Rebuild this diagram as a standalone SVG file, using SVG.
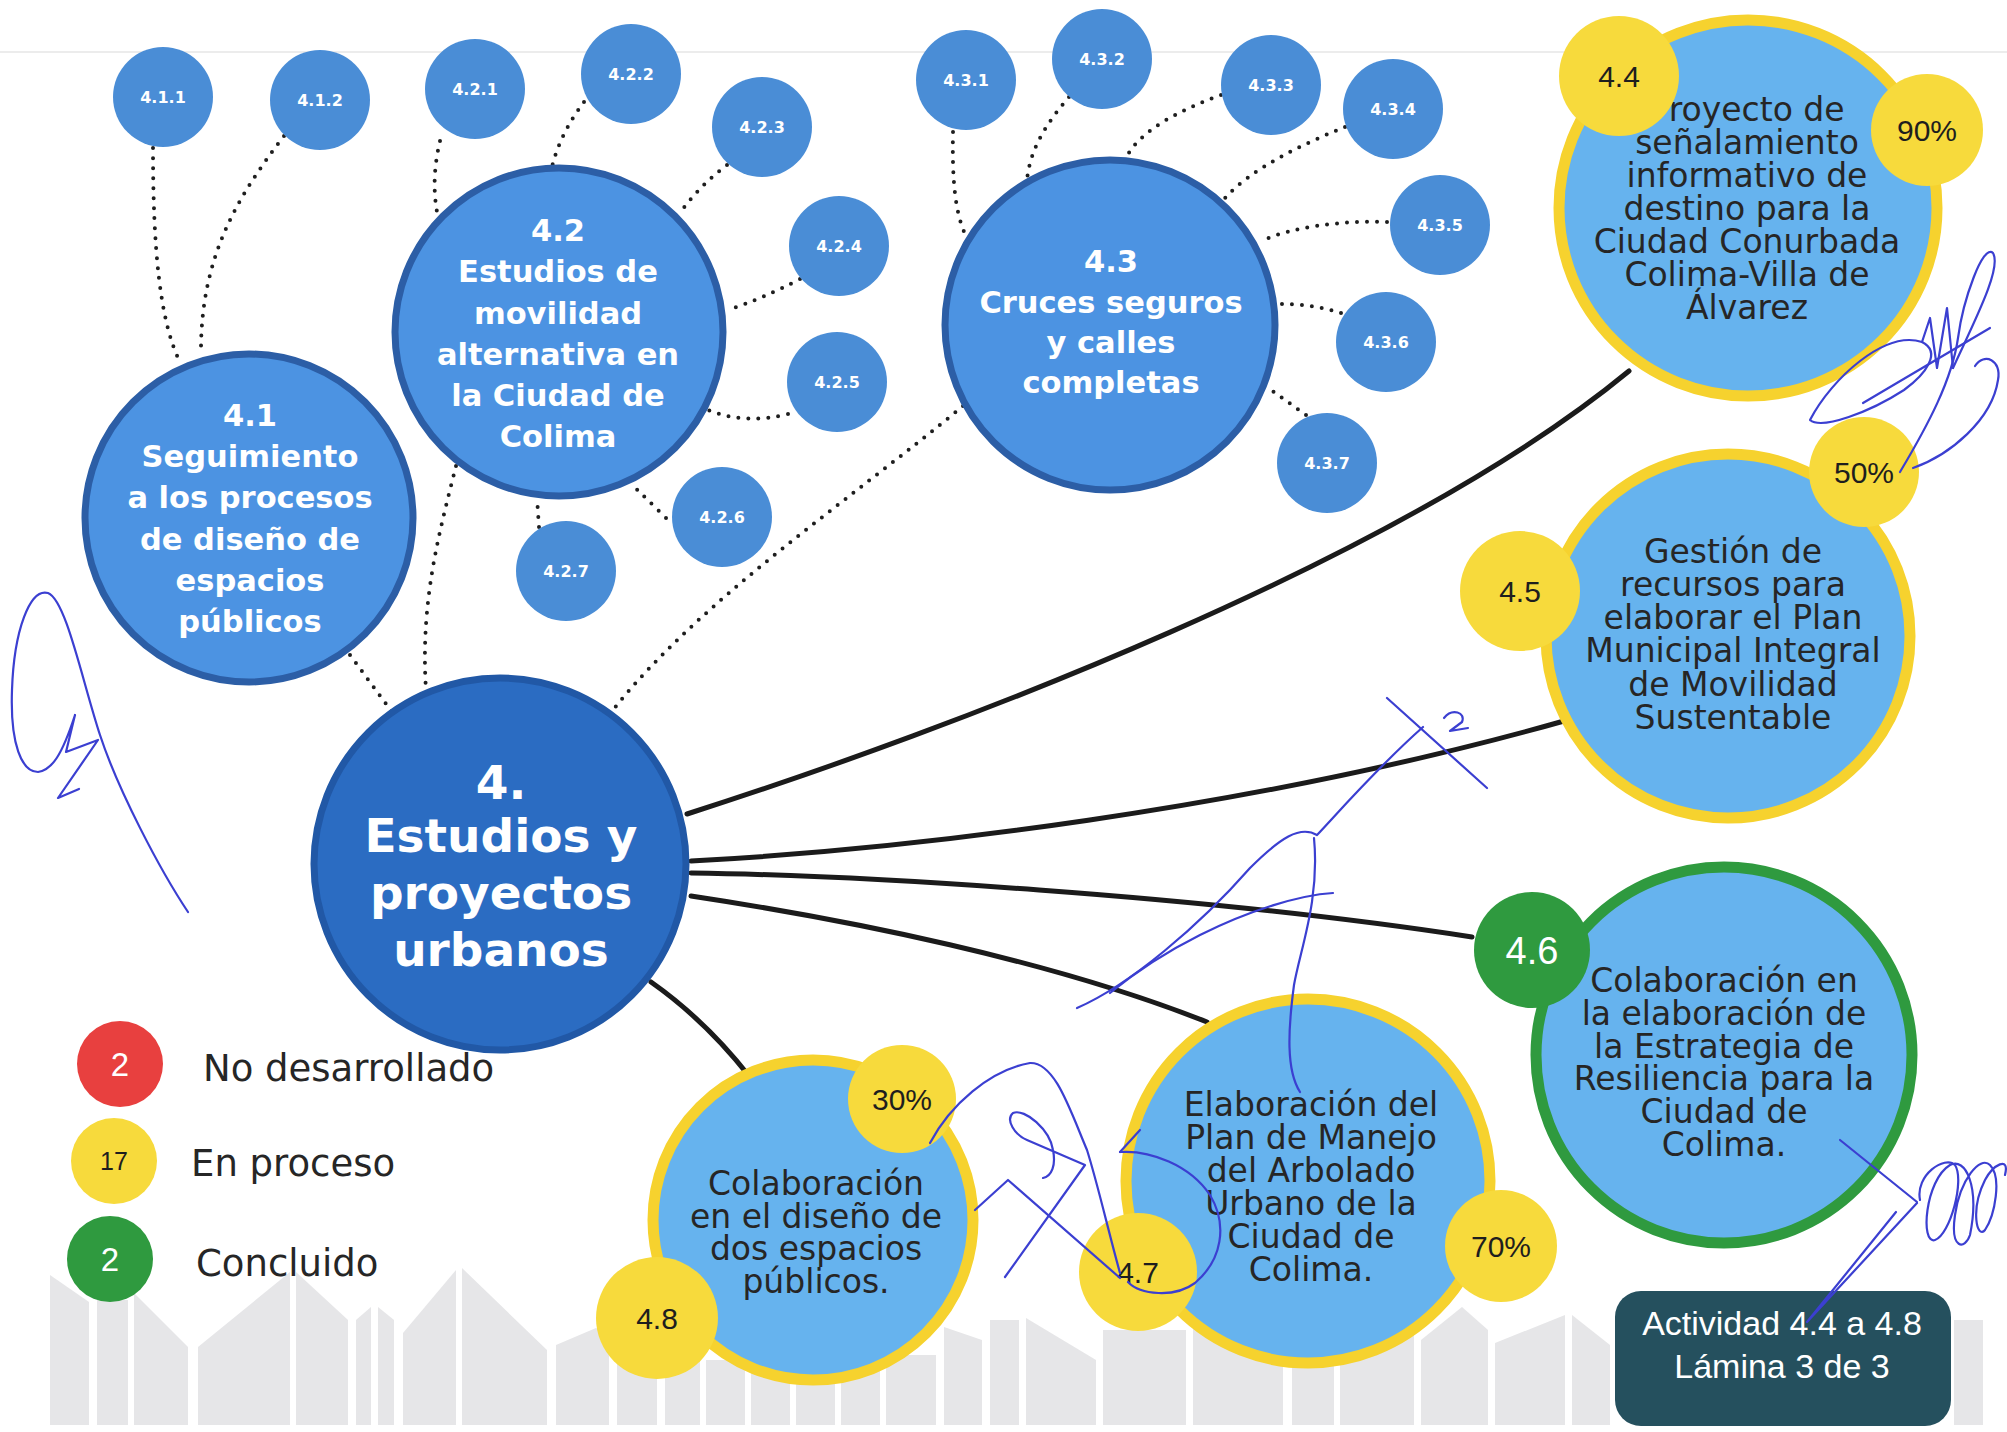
<svg xmlns="http://www.w3.org/2000/svg" width="2007" height="1432" viewBox="0 0 2007 1432">
<defs>
<style>
.bgl{stroke:#ececec;stroke-width:2}
.pk{fill:#e6e6e8}
.dot{fill:none;stroke:#1e1e1e;stroke-width:4;stroke-linecap:round;stroke-dasharray:0 10}
.sol{fill:none;stroke:#1b1b1b;stroke-width:5;stroke-linecap:round}
.sub{fill:#4a8dd6}
.subt{font-family:"DejaVu Sans",sans-serif;font-weight:bold;font-size:16px;fill:#fff;text-anchor:middle}
.mid{fill:#4c93e2;stroke:#2c5ea6;stroke-width:7}
.midt{font-family:"DejaVu Sans",sans-serif;font-weight:bold;font-size:30.5px;fill:#fff;text-anchor:middle}
.main{fill:#2b6cc2;stroke:#2158a6;stroke-width:7}
.maint{font-family:"DejaVu Sans",sans-serif;font-weight:bold;font-size:47px;fill:#fff;text-anchor:middle}
.big{fill:#66b3ee;stroke:#f6d22e;stroke-width:11}
.bigg{fill:#66b3ee;stroke:#2f9a3f;stroke-width:11}
.bt{font-family:"DejaVu Sans",sans-serif;font-size:33px;fill:#262626;text-anchor:middle}
.bdg{fill:#f7da3c}
.bdgt{font-family:"Liberation Sans",Arial,sans-serif;font-size:30px;fill:#1e1e1e;text-anchor:middle}
.lgt{font-family:"DejaVu Sans",sans-serif;font-size:37px;fill:#262626}
.sig{fill:none;stroke:#3b3fd1;stroke-width:2.2;stroke-linecap:round;stroke-linejoin:round}
</style>
</defs>
<rect width="2007" height="1432" fill="#ffffff"/>
<line class="bgl" x1="0" y1="52" x2="2007" y2="52"/>

<g id="fence">
<polygon class="pk" points="50,1425 50,1275 89,1302 89,1425"/>
<polygon class="pk" points="97,1425 97,1300 128,1300 128,1425"/>
<polygon class="pk" points="134,1425 134,1293 188,1347 188,1425"/>
<polygon class="pk" points="198,1425 198,1347 290,1272 290,1425"/>
<polygon class="pk" points="296,1425 296,1272 348,1320 348,1425"/>
<polygon class="pk" points="356,1425 356,1320 371,1307 371,1425"/>
<polygon class="pk" points="378,1425 378,1307 394,1320 394,1425"/>
<polygon class="pk" points="403,1425 403,1333 456,1270 456,1425"/>
<polygon class="pk" points="462,1425 462,1268 547,1350 547,1425"/>
<polygon class="pk" points="556,1425 556,1345 596,1328 609,1335 609,1425"/>
<polygon class="pk" points="617,1425 617,1360 657,1360 657,1425"/>
<polygon class="pk" points="665,1425 665,1360 700,1360 700,1425"/>
<polygon class="pk" points="706,1425 706,1360 745,1360 745,1425"/>
<polygon class="pk" points="751,1425 751,1360 790,1360 790,1425"/>
<polygon class="pk" points="796,1425 796,1360 835,1360 835,1425"/>
<polygon class="pk" points="841,1425 841,1360 880,1360 880,1425"/>
<polygon class="pk" points="886,1425 886,1355 936,1355 936,1425"/>
<polygon class="pk" points="944,1425 944,1327 982,1340 982,1425"/>
<polygon class="pk" points="990,1425 990,1320 1019,1320 1019,1425"/>
<polygon class="pk" points="1026,1425 1026,1318 1096,1360 1096,1425"/>
<polygon class="pk" points="1103,1425 1103,1330 1186,1330 1186,1425"/>
<polygon class="pk" points="1193,1425 1193,1312 1283,1340 1283,1425"/>
<polygon class="pk" points="1292,1425 1292,1330 1334,1330 1334,1425"/>
<polygon class="pk" points="1340,1425 1340,1330 1414,1330 1414,1425"/>
<polygon class="pk" points="1421,1425 1421,1340 1462,1307 1488,1330 1488,1425"/>
<polygon class="pk" points="1495,1425 1495,1343 1565,1315 1565,1425"/>
<polygon class="pk" points="1572,1425 1572,1315 1610,1345 1610,1425"/>
<polygon class="pk" points="1954,1425 1954,1320 1983,1320 1983,1425"/>
</g>

<g id="connectors">
<path class="sol" d="M687,814 C950,730 1400,560 1629,371"/>
<path class="sol" d="M691,861 C900,850 1250,810 1564,721"/>
<path class="sol" d="M691,873 C850,875 1200,895 1472,937"/>
<path class="sol" d="M691,896 C850,920 1050,960 1207,1022"/>
<path class="sol" d="M651,982 Q705,1020 749,1076"/>
<path class="dot" d="M153,148 C153,250 160,320 179,360"/>
<path class="dot" d="M284,136 C235,200 200,260 201,355"/>
<path class="dot" d="M440,141 C432,175 434,200 439,222"/>
<path class="dot" d="M584,102 C570,120 557,145 552,167"/>
<path class="dot" d="M727,165 Q700,185 679,214"/>
<path class="dot" d="M800,279 Q760,300 727,310"/>
<path class="dot" d="M788,414 Q745,425 708,410"/>
<path class="dot" d="M666,518 Q648,500 631,484"/>
<path class="dot" d="M539,527 L537,498"/>
<path class="dot" d="M350,655 L392,712"/>
<path class="dot" d="M456,466 C440,530 420,600 426,690"/>
<path class="dot" d="M963,406 C850,500 700,600 613,710"/>
<path class="dot" d="M953,132 C952,180 955,215 967,238"/>
<path class="dot" d="M1069,97 C1045,125 1030,150 1027,180"/>
<path class="dot" d="M1221,95 C1180,110 1140,130 1126,158"/>
<path class="dot" d="M1345,127 C1300,145 1250,170 1225,198"/>
<path class="dot" d="M1387,222 C1340,220 1290,228 1264,240"/>
<path class="dot" d="M1341,313 Q1310,303 1274,304"/>
<path class="dot" d="M1306,415 L1267,387"/>
</g>

<g id="n411"><circle class="sub" cx="163" cy="97" r="50"/><text class="subt" x="163" y="103">4.1.1</text></g>
<g id="n412"><circle class="sub" cx="320" cy="100" r="50"/><text class="subt" x="320" y="106">4.1.2</text></g>
<g id="n421"><circle class="sub" cx="475" cy="89" r="50"/><text class="subt" x="475" y="95">4.2.1</text></g>
<g id="n422"><circle class="sub" cx="631" cy="74" r="50"/><text class="subt" x="631" y="80">4.2.2</text></g>
<g id="n423"><circle class="sub" cx="762" cy="127" r="50"/><text class="subt" x="762" y="133">4.2.3</text></g>
<g id="n424"><circle class="sub" cx="839" cy="246" r="50"/><text class="subt" x="839" y="252">4.2.4</text></g>
<g id="n425"><circle class="sub" cx="837" cy="382" r="50"/><text class="subt" x="837" y="388">4.2.5</text></g>
<g id="n426"><circle class="sub" cx="722" cy="517" r="50"/><text class="subt" x="722" y="523">4.2.6</text></g>
<g id="n427"><circle class="sub" cx="566" cy="571" r="50"/><text class="subt" x="566" y="577">4.2.7</text></g>
<g id="n431"><circle class="sub" cx="966" cy="80" r="50"/><text class="subt" x="966" y="86">4.3.1</text></g>
<g id="n432"><circle class="sub" cx="1102" cy="59" r="50"/><text class="subt" x="1102" y="65">4.3.2</text></g>
<g id="n433"><circle class="sub" cx="1271" cy="85" r="50"/><text class="subt" x="1271" y="91">4.3.3</text></g>
<g id="n434"><circle class="sub" cx="1393" cy="109" r="50"/><text class="subt" x="1393" y="115">4.3.4</text></g>
<g id="n435"><circle class="sub" cx="1440" cy="225" r="50"/><text class="subt" x="1440" y="231">4.3.5</text></g>
<g id="n436"><circle class="sub" cx="1386" cy="342" r="50"/><text class="subt" x="1386" y="348">4.3.6</text></g>
<g id="n437"><circle class="sub" cx="1327" cy="463" r="50"/><text class="subt" x="1327" y="469">4.3.7</text></g>

<g id="n41"><circle class="mid" cx="249" cy="518" r="164"/>
<text class="midt"><tspan x="250" y="426">4.1</tspan><tspan x="250" y="467">Seguimiento</tspan><tspan x="250" y="508">a los procesos</tspan><tspan x="250" y="550">de diseño de</tspan><tspan x="250" y="591">espacios</tspan><tspan x="250" y="632">públicos</tspan></text></g>
<g id="n42"><circle class="mid" cx="559" cy="332" r="164"/>
<text class="midt"><tspan x="558" y="241">4.2</tspan><tspan x="558" y="282">Estudios de</tspan><tspan x="558" y="324">movilidad</tspan><tspan x="558" y="365">alternativa en</tspan><tspan x="558" y="406">la Ciudad de</tspan><tspan x="558" y="447">Colima</tspan></text></g>
<g id="n43"><circle class="mid" cx="1110" cy="325" r="165"/>
<text class="midt"><tspan x="1111" y="272">4.3</tspan><tspan x="1111" y="313">Cruces seguros</tspan><tspan x="1111" y="353">y calles</tspan><tspan x="1111" y="393">completas</tspan></text></g>
<g id="n4"><circle class="main" cx="500" cy="864" r="186"/>
<text class="maint"><tspan x="501" y="799">4.</tspan><tspan x="501" y="852">Estudios y</tspan><tspan x="501" y="909">proyectos</tspan><tspan x="501" y="966">urbanos</tspan></text></g>

<g id="n44"><ellipse class="big" cx="1748" cy="208" rx="189" ry="188"/>
<text class="bt"><tspan x="1747" y="121">Proyecto de</tspan><tspan x="1747" y="154">señalamiento</tspan><tspan x="1747" y="187">informativo de</tspan><tspan x="1747" y="220">destino para la</tspan><tspan x="1747" y="253">Ciudad Conurbada</tspan><tspan x="1747" y="286">Colima-Villa de</tspan><tspan x="1747" y="319">Álvarez</tspan></text>
<circle class="bdg" cx="1619" cy="76" r="60"/><text class="bdgt" x="1619" y="87">4.4</text>
<circle class="bdg" cx="1927" cy="130" r="56"/><text class="bdgt" x="1927" y="141">90%</text></g>

<g id="n45"><circle class="big" cx="1728" cy="636" r="182"/>
<text class="bt"><tspan x="1733" y="563">Gestión de</tspan><tspan x="1733" y="596">recursos para</tspan><tspan x="1733" y="629">elaborar el Plan</tspan><tspan x="1733" y="662">Municipal Integral</tspan><tspan x="1733" y="696">de Movilidad</tspan><tspan x="1733" y="729">Sustentable</tspan></text>
<circle class="bdg" cx="1864" cy="472" r="55"/><text class="bdgt" x="1864" y="483">50%</text>
<circle class="bdg" cx="1520" cy="591" r="60"/><text class="bdgt" x="1520" y="602">4.5</text></g>

<g id="n46"><circle class="bigg" cx="1724" cy="1055" r="188"/>
<text class="bt"><tspan x="1724" y="992">Colaboración en</tspan><tspan x="1724" y="1025">la elaboración de</tspan><tspan x="1724" y="1058">la Estrategia de</tspan><tspan x="1724" y="1090">Resiliencia para la</tspan><tspan x="1724" y="1123">Ciudad de</tspan><tspan x="1724" y="1156">Colima.</tspan></text>
<circle cx="1532" cy="950" r="58" fill="#2f9a3f"/><text class="bdgt" x="1532" y="964" style="font-size:38px;fill:#ffffff">4.6</text></g>

<g id="n47"><circle class="big" cx="1308" cy="1181" r="182"/>
<text class="bt"><tspan x="1311" y="1116">Elaboración del</tspan><tspan x="1311" y="1149">Plan de Manejo</tspan><tspan x="1311" y="1182">del Arbolado</tspan><tspan x="1311" y="1215">Urbano de la</tspan><tspan x="1311" y="1248">Ciudad de</tspan><tspan x="1311" y="1281">Colima.</tspan></text>
<circle class="bdg" cx="1501" cy="1246" r="56"/><text class="bdgt" x="1501" y="1257">70%</text>
<circle class="bdg" cx="1138" cy="1272" r="59"/><text class="bdgt" x="1138" y="1283">4.7</text></g>

<g id="n48"><circle class="big" cx="813" cy="1220" r="160"/>
<text class="bt"><tspan x="816" y="1195">Colaboración</tspan><tspan x="816" y="1228">en el diseño de</tspan><tspan x="816" y="1260">dos espacios</tspan><tspan x="816" y="1293">públicos.</tspan></text>
<circle class="bdg" cx="902" cy="1099" r="54"/><text class="bdgt" x="902" y="1110">30%</text>
<circle class="bdg" cx="657" cy="1318" r="61"/><text class="bdgt" x="657" y="1329">4.8</text></g>

<g id="legend">
<circle cx="120" cy="1064" r="43" fill="#e8403f"/><text class="bdgt" x="120" y="1076" style="font-size:33px;fill:#fff">2</text>
<text class="lgt" x="203" y="1081">No desarrollado</text>
<circle cx="114" cy="1161" r="43" fill="#f7da3c"/><text class="bdgt" x="114" y="1170" style="font-size:25px">17</text>
<text class="lgt" x="191" y="1176">En proceso</text>
<circle cx="110" cy="1259" r="43" fill="#2f9a3f"/><text class="bdgt" x="110" y="1271" style="font-size:33px;fill:#fff">2</text>
<text class="lgt" x="196" y="1276">Concluido</text>
</g>

<g id="sheet-label">
<rect x="1615" y="1291" width="336" height="135" rx="26" fill="#25505e"/>
<text class="bdgt" style="font-size:34px;fill:#fff"><tspan x="1782" y="1335">Actividad 4.4 a 4.8</tspan><tspan x="1782" y="1378">Lámina 3 de 3</tspan></text>
</g>

<g id="signatures">
<path class="sig" d="M188,912 C160,870 118,790 100,735 C82,680 66,600 48,593 C30,588 14,630 12,690 C10,745 22,772 38,772 C52,770 62,755 75,715 L66,752 L98,740 L58,798 L79,789"/>
<path class="sig" d="M1863,403 L1990,328"/>
<path class="sig" d="M1810,420 C1832,378 1885,330 1922,342 C1942,352 1926,374 1904,390 C1870,412 1822,430 1810,420"/>
<path class="sig" d="M1922,342 L1930,318 L1937,368 L1947,308 L1953,368"/>
<path class="sig" d="M1953,368 C1975,320 2002,268 1993,253 C1983,243 1963,300 1958,338 C1952,380 1928,425 1900,472"/>
<path class="sig" d="M1913,468 C1950,455 1992,420 1998,380 C2002,360 1984,352 1975,366"/>
<path class="sig" d="M1387,698 L1487,788"/>
<path class="sig" d="M1423,727 C1380,765 1345,805 1317,835 C1300,825 1280,838 1250,868 C1200,925 1130,985 1077,1008"/>
<path class="sig" d="M1333,893 C1300,895 1250,910 1200,935 C1160,955 1132,975 1110,993"/>
<path class="sig" d="M1314,838 C1320,900 1300,950 1294,985 C1288,1030 1286,1070 1300,1092"/>
<path class="sig" d="M1444,718 C1452,708 1466,712 1462,722 L1450,731 L1468,728"/>
<path class="sig" d="M930,1143 C950,1105 990,1070 1030,1063 C1055,1062 1070,1110 1087,1150 C1098,1185 1108,1230 1120,1273"/>
<path class="sig" d="M975,1210 L1008,1180 L1120,1278"/>
<path class="sig" d="M1043,1178 C1052,1176 1056,1165 1053,1150 C1050,1130 1025,1108 1013,1113 C1005,1120 1015,1135 1027,1140 L1085,1165 L1005,1277"/>
<path class="sig" d="M1120,1152 L1140,1130"/>
<path class="sig" d="M1120,1152 C1150,1150 1190,1165 1210,1195 C1228,1225 1222,1260 1195,1283 C1175,1298 1140,1295 1128,1282"/>
<path class="sig" d="M1840,1140 L1917,1202"/>
<path class="sig" d="M1917,1203 L1807,1322 L1896,1212"/>
<path class="sig" d="M1920,1200 c-5,-25 25,-45 35,-35 c10,15 -5,70 -20,75 c-15,5 -10,-60 15,-75 c15,-8 30,20 20,70 c-5,15 -20,15 -15,-20 c5,-35 25,-60 35,-50 c12,12 5,50 -5,65 c-8,10 -15,-20 0,-50 c8,-15 25,-25 20,-5"/>
</g>
</svg>
